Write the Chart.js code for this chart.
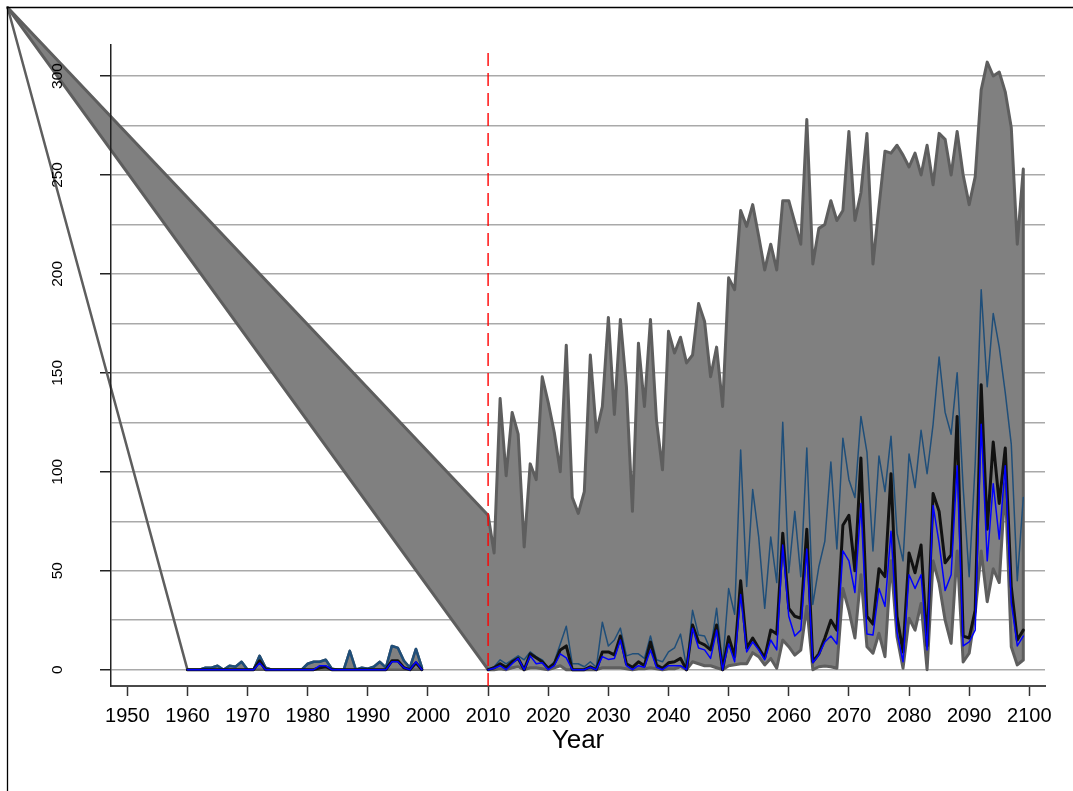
<!DOCTYPE html>
<html>
<head>
<meta charset="utf-8">
<script src="https://cdn.jsdelivr.net/npm/chart.js@4/dist/chart.umd.min.js"></script>
<style>
  html, body { margin: 0; padding: 0; background: #ffffff; }
  canvas { display: block; }
</style>
</head>
<body>
<canvas id="chart" width="1073" height="791"></canvas>
<script>
// ---- observed period ----
const histYears = [1960,1961,1962,1963,1964,1965,1966,1967,1968,1969,
                   1970,1971,1972,1973,1974,1975,1976,1977,1978,1979,
                   1980,1981,1982,1983,1984,1985,1986,1987,1988,1989,
                   1990,1991,1992,1993,1994,1995,1996,1997,1998,1999];
const histUpper  = [0,0,0,1,1,2,0,2,1.5,4, 0,0,7,1,0,0,0,0,0,0, 3,4,4,5,0.5,0,0,9.5,0,1, 0.5,1.5,4,1,12,11,4.5,1,10.5,1];
const histLower  = [0,0,0,0,0,0,0,0,0,0, 0,0,0,0,0,0,0,0,0,0, 0,0,0,0,0,0,0,0,0,0, 0,0,0,0,0,0,0,0,0,0];
const histHigh   = [0,0,0,1,1,2,0,2,1.5,4, 0,0,7,1,0,0,0,0,0,0, 3,4,4,5,0.5,0,0,9.5,0,1, 0.5,1.5,4,1,12,11,4.5,1,10.5,1];
const histMedian = [0,0,0,0,0,0,0,0,0,0, 0,0,4.5,0,0,0,0,0,0,0, 0,0,1,1.5,0,0,0,0,0,0, 0,0,0,0,4.5,4.5,1,0,3.5,0];
const histMean   = [0,0,0,0,0,0,0,0,0,0, 0,0,3.4,0,0,0,0,0,0,0, 0,0,2,2,0,0,0,0,0,0, 0,0,0,0,4,4,1,0,4,0];

// ---- projected period ----
const projYears = [2010,2011,2012,2013,2014,2015,2016,2017,2018,2019,
                   2020,2021,2022,2023,2024,2025,2026,2027,2028,2029,
                   2030,2031,2032,2033,2034,2035,2036,2037,2038,2039,
                   2040,2041,2042,2043,2044,2045,2046,2047,2048,2049,
                   2050,2051,2052,2053,2054,2055,2056,2057,2058,2059,
                   2060,2061,2062,2063,2064,2065,2066,2067,2068,2069,
                   2070,2071,2072,2073,2074,2075,2076,2077,2078,2079,
                   2080,2081,2082,2083,2084,2085,2086,2087,2088,2089,
                   2090,2091,2092,2093,2094,2095,2096,2097,2098,2099];
const projUpper = [78,59,137,98,130,119,62,104,96,148,
                   135,120,100,164,87,79,90,159,120,133,
                   178,129,177,143,80,165,133,177,126,101,
                   171,160,168,155,159,185,176,148,163,133,
                   198,192,232,224,235,219,202,215,202,237,
                   237,226,215,278,205,223,225,237,227,232,
                   272,227,241,271,205,234,262,261,265,260,
                   254,261,250,265,245,271,268,250,272,250,
                   235,249,293,307,300,302,292,274,215,253];
const projLower = [0,0,0.5,0,1,1.5,0,1,1,0.5,
                   0,1,2,0,0,0,0,0,0,1,
                   1,1,1,0.5,0,0.5,0.5,1,0.5,0,
                   0.5,0.5,1.5,0,4,3,2,2,1,0,
                   2,2.5,3,3,8.6,6.6,2.4,5.7,0.7,15,
                   11.6,7.4,9.9,32,0,1.5,1.9,1.5,0.7,41,
                   30,16,48,11.6,8.3,18.4,6.6,55,16.7,0.7,
                   26,20,33.5,0,55,43.6,25,13.3,60,3.9,
                   8.3,28.6,60,34.4,51,44,94,11.6,2.4,4.9];
const projHigh  = [0,1.5,5,3,5,7,5,9,6.6,5,
                   0.7,4,13,22,3,3,1.5,4,1.2,24,
                   12,15,21,7,8,8,5.7,17,5,4,
                   9,11,18,1.2,30,17.5,17,10,31,2.4,
                   41,28,111,42,91,67,31,67,44,125,
                   49,80,47,112,33,52,65,105,61,117,
                   96,87,128,110,60,108,90,118,69,55,
                   109,92,121,99,124,158,130,119,150,92,
                   47,104,192,143,180,163,140,114,45,87];
const projMedian = [0,1,3,1.2,4,5.7,0,8,6,4,
                    0.7,3,10,12,0,0,0,1.5,0,9,
                    9,7.5,17,3,1.2,4,2,14,2.4,0.7,
                    3.5,4,5.7,0,22.6,14,12.5,10,22.6,0,
                    16.7,6.6,45,11,16,11,6,20,18,69,
                    31,27,26,71,4,8,16,25,20,73,
                    78,50,107,27,23,51,47,99,27,9,
                    59,49,63,12,89,80,54,58,128,17,
                    16,30,144,71,115,84,112,42,15,20];
const projMean = [0,0.7,2,0,3,5.7,0,7,3,3.5,
                  0,2,8,6,0,0,0,1.2,0,6.6,
                  5.2,5.7,15,2,0,2,1.2,10,1.2,0,
                  2,2,2,0,21,11,10,5.7,20,0,
                  13,4,38,9,14,10,5,15,10,63,
                  27,17,20,61,3.5,7.4,14,17,13,60,
                  55,39,84,18,17.5,41,32,70,19,4,
                  48,41,48,10,83,64,40,48,103,12,
                  14,20,124,55,94,66,103,34,12,17];

// start of projections
const splitYear = 2010;

// axis ticks
const xTickYears = [1950,1960,1970,1980,1990,2000,2010,2020,2030,2040,2050,2060,2070,2080,2090,2100];
const yGridValues = [0,25,50,75,100,125,150,175,200,225,250,275,300];
const yTickLabels = [0,50,100,150,200,250,300];

// shared vertex from which both polygon outlines are drawn
const polygonOrigin = { x: 1930.1, y: 334.6 };

const X_MIN = 1947.29, X_MAX = 2102.61;
const Y_MIN = -8.24,   Y_MAX = 315.66;

function toPoints(years, values) {
  return years.map((yr, i) => ({ x: yr, y: values[i] }));
}
function bandPolygon(years, upper, lower) {
  const pts = [polygonOrigin];
  for (let i = 0; i < years.length; i++) pts.push({ x: years[i], y: upper[i] });
  for (let i = years.length - 1; i >= 0; i--) pts.push({ x: years[i], y: lower[i] });
  pts.push(polygonOrigin);
  return pts;
}

const FONT = "'Liberation Sans', Arial, Helvetica, sans-serif";
Chart.defaults.font.family = FONT;
Chart.defaults.color = '#000000';

const BAND_FILL = '#808080';
const BAND_EDGE = '#5e5e5e';
const HIGH_COL = '#1f4e79';
const MEDIAN_COL = '#111111';
const MEAN_COL = '#0000ff';

const lineBase = { pointRadius: 0, pointHoverRadius: 0, tension: 0, fill: false, borderJoinStyle: 'round', borderCapStyle: 'round' };

// the band outlines leave the plot area, so fills get the full canvas while datasets are drawn
const openArea = {
  id: 'openArea',
  beforeDatasetsDraw(chart) {
    chart.$plotArea = chart.chartArea;
    chart.chartArea = { left: 0, top: 0, right: chart.width, bottom: chart.height, width: chart.width, height: chart.height };
  },
  afterDatasetsDraw(chart) {
    if (chart.$plotArea) chart.chartArea = chart.$plotArea;
  }
};

// figure frame on the left and top
const frame = {
  id: 'frame',
  afterDraw(chart) {
    const ctx = chart.ctx;
    ctx.save();
    ctx.strokeStyle = '#000000';
    ctx.lineWidth = 1.3;
    ctx.beginPath();
    ctx.moveTo(7.5, chart.height);
    ctx.lineTo(7.5, 7.5);
    ctx.lineTo(chart.width, 7.5);
    ctx.stroke();
    ctx.restore();
  }
};

new Chart(document.getElementById('chart'), {
  type: 'line',
  data: {
    datasets: [
      { ...lineBase, label: 'split', order: 0,
        data: [{ x: splitYear, y: Y_MIN }, { x: splitYear, y: 314.2 }],
        borderColor: '#ff0000', borderWidth: 1.4, borderDash: [13, 7], borderCapStyle: 'butt' },
      { ...lineBase, label: 'mean', order: 1, data: toPoints(projYears, projMean),
        borderColor: MEAN_COL, borderWidth: 1.5 },
      { ...lineBase, label: 'mean obs', order: 1, data: toPoints(histYears, histMean),
        borderColor: MEAN_COL, borderWidth: 1.5 },
      { ...lineBase, label: 'median', order: 2, data: toPoints(projYears, projMedian),
        borderColor: MEDIAN_COL, borderWidth: 3 },
      { ...lineBase, label: 'median obs', order: 2, data: toPoints(histYears, histMedian),
        borderColor: MEDIAN_COL, borderWidth: 3 },
      { ...lineBase, label: 'high', order: 3, data: toPoints(projYears, projHigh),
        borderColor: HIGH_COL, borderWidth: 1.5 },
      { ...lineBase, label: 'high obs', order: 3, data: toPoints(histYears, histHigh),
        borderColor: HIGH_COL, borderWidth: 2.5 },
      { ...lineBase, label: 'range', order: 4, clip: false,
        data: bandPolygon(projYears, projUpper, projLower),
        borderColor: BAND_EDGE, backgroundColor: BAND_FILL, borderWidth: 3, fill: 'shape' },
      { ...lineBase, label: 'range obs', order: 5, clip: false,
        data: bandPolygon(histYears, histUpper, histLower),
        borderColor: BAND_EDGE, backgroundColor: BAND_FILL, borderWidth: 2.5, fill: 'shape' }
    ]
  },
  options: {
    responsive: false,
    animation: false,
    devicePixelRatio: 1,
    layout: { padding: { left: 0, top: 45, right: 28, bottom: 0 } },
    plugins: { legend: { display: false }, tooltip: { enabled: false } },
    scales: {
      x: {
        type: 'linear',
        min: X_MIN, max: X_MAX,
        afterBuildTicks: (scale) => { scale.ticks = xTickYears.map(v => ({ value: v })); },
        afterFit: (scale) => { scale.height = 105; },
        grid: { display: true, drawOnChartArea: false, drawTicks: true, tickLength: 10, tickColor: '#333333', tickWidth: 1.5 },
        border: { display: true, color: '#4a4a4a', width: 2 },
        ticks: { autoSkip: false, maxRotation: 0, minRotation: 0, padding: 8, color: '#000000',
                 font: { size: 20, family: FONT }, callback: (v) => String(v) },
        title: { display: true, text: 'Year', color: '#000000', font: { size: 26, family: FONT }, padding: { top: 0, bottom: 35 } }
      },
      y: {
        type: 'linear',
        min: Y_MIN, max: Y_MAX,
        afterBuildTicks: (scale) => { scale.ticks = yGridValues.map(v => ({ value: v })); },
        afterFit: (scale) => { scale.width = 111; },
        grid: {
          display: true, drawOnChartArea: true, drawTicks: true, tickLength: 11,
          color: '#a9a9a9', lineWidth: 1.5,
          tickColor: (ctx) => (ctx.tick && yTickLabels.includes(ctx.tick.value)) ? '#222222' : 'rgba(0,0,0,0)',
          tickWidth: 1.5
        },
        border: { display: true, color: '#222222', width: 1.5, z: 1 },
        ticks: {
          autoSkip: false, minRotation: 90, maxRotation: 90, crossAlign: 'center', padding: 29, z: 1,
          color: '#000000', font: { size: 15.5, family: FONT },
          callback: (v) => yTickLabels.includes(v) ? String(v) : ''
        }
      }
    }
  },
  plugins: [openArea, frame]
});
</script>
</body>
</html>
